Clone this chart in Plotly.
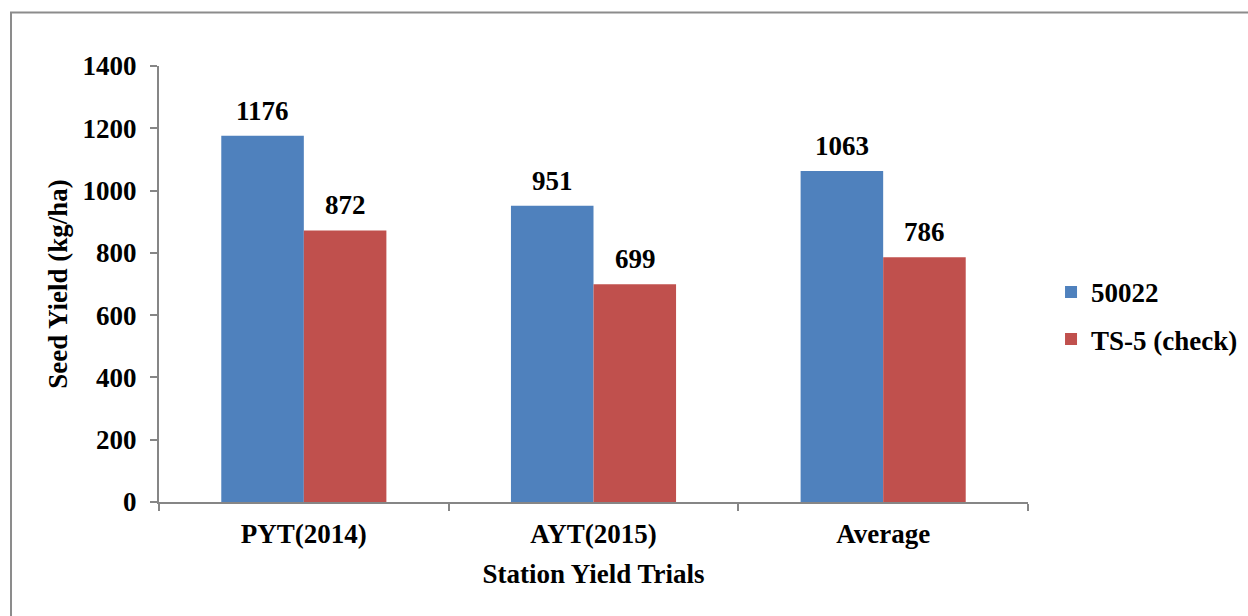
import plotly.graph_objects as go

categories = ["PYT(2014)", "AYT(2015)", "Average"]
series_names = ["50022", "TS-5 (check)"]
values_50022 = [1176, 951, 1063]
values_ts5 = [872, 699, 786]
y_ticks = [0, 200, 400, 600, 800, 1000, 1200, 1400]

colors = ["#4F81BD", "#C0504D"]
FONT = "Liberation Serif"
FS = 27
AXIS_COLOR = "#868686"

fig = go.Figure()
for name, vals, col in zip(series_names, [values_50022, values_ts5], colors):
    fig.add_trace(go.Bar(x=categories, y=vals, name=f"<b>{name}</b>", legendgroup=name,
                         marker=dict(color=col, line=dict(width=0))))

# data labels above each bar
bar_half = 41.5
for i, vals in enumerate([values_50022, values_ts5]):
    shift = -bar_half if i == 0 else bar_half
    for c, v in zip(categories, vals):
        fig.add_annotation(x=c, y=v, text=f"<b>{v}</b>", showarrow=False,
                           xref="x", yref="y", xshift=shift, yanchor="bottom", yshift=8,
                           font=dict(family=FONT, size=FS, color="black"))

# outer chart border (Excel-style), left & top visible
fig.add_shape(type="rect", xref="paper", yref="paper",
              x0=-0.1703, y0=-1.0, x1=2.0, y1=1.1227,
              line=dict(color="#8c8c8c", width=2), fillcolor="rgba(0,0,0,0)", layer="below")

fig.update_layout(
    width=1248, height=616,
    margin=dict(l=159, r=220, t=66, b=114, autoexpand=False),
    paper_bgcolor="white", plot_bgcolor="white",
    barmode="group", bargap=0.43, bargroupgap=0,
    font=dict(family=FONT, size=FS, color="black"),
    showlegend=True,
    legend=dict(x=1.0265, y=0.427, xanchor="left", yanchor="middle",
                font=dict(family=FONT, size=FS, color="black"),
                traceorder="grouped", tracegroupgap=9,
                itemwidth=30, bgcolor="rgba(0,0,0,0)"),
    xaxis=dict(
        automargin=False,
        showline=True, linecolor=AXIS_COLOR, linewidth=2,
        ticks="outside", tickson="boundaries", ticklen=7, tickcolor=AXIS_COLOR, tickwidth=2,
        tickfont=dict(family=FONT, size=FS, color="black"),
        tickprefix="<b>", ticksuffix="</b>",
        ticklabelstandoff=7,
        title=dict(text="<b>Station Yield Trials</b>", standoff=16,
                   font=dict(family=FONT, size=FS, color="black")),
        showgrid=False, zeroline=False,
    ),
    yaxis=dict(
        automargin=False,
        range=[0, 1400], tickvals=y_ticks, ticktext=[f"<b>{t}</b>" for t in y_ticks],
        showline=True, linecolor=AXIS_COLOR, linewidth=2,
        ticks="outside", ticklen=7, tickcolor=AXIS_COLOR, tickwidth=2,
        tickfont=dict(family=FONT, size=FS, color="black"),
        ticklabelstandoff=8,
        title=dict(text="<b>Seed Yield (kg/ha)</b>", standoff=7,
                   font=dict(family=FONT, size=FS, color="black")),
        showgrid=False, zeroline=False,
    ),
)

fig.write_html("out.html",
               config={"displayModeBar": False},
               post_script="document.body.style.margin='0';document.body.style.overflow='hidden';")
